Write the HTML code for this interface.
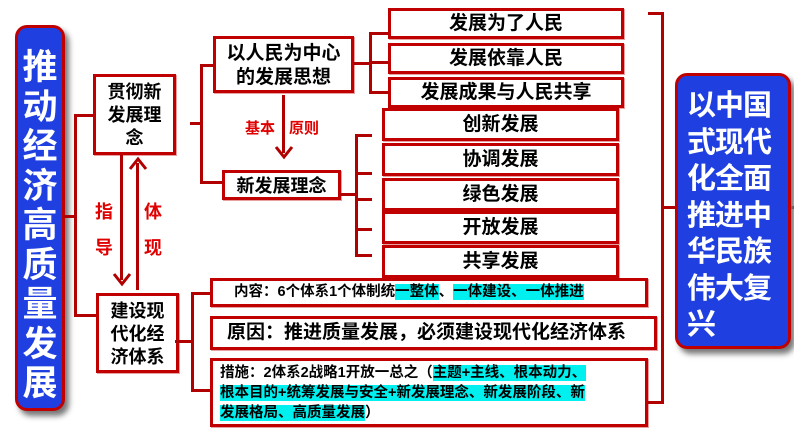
<!DOCTYPE html>
<html><head><meta charset="utf-8"><style>
body{margin:0;width:794px;height:447px;background:#fff;position:relative;overflow:hidden;font-family:"Liberation Sans","Noto Sans CJK SC",sans-serif;}
div{position:absolute;box-sizing:border-box;}
.b{border:3px solid #c00000;background:#fff;color:#000;font-weight:bold;text-align:center;box-shadow:1px 1px 0 #e8a0a0;}
.l{background:#b00000;}
.r{color:#e00000;font-weight:bold;font-size:18px;line-height:20px;}
.c{background:#00f0f0;}
.blue{background:#1f3fe0;border:3px solid #c00000;border-radius:12px;color:#fff;font-weight:bold;box-shadow:4px 5px 6px #777;}
</style></head><body>
<div class="blue" style="left:15px;top:25px;width:50px;height:386px;font-size:35px;line-height:39.5px;text-align:center;padding-top:20px;">推<br>动<br>经<br>济<br>高<br>质<br>量<br>发<br>展</div>
<div class="l" style="left:63px;top:215px;width:12px;height:3px"></div>
<div class="l" style="left:74px;top:114px;width:3px;height:203px"></div>
<div class="l" style="left:74px;top:114px;width:20px;height:3px"></div>
<div class="l" style="left:74px;top:314px;width:22px;height:3px"></div>
<div class="b" style="left:93px;top:74px;width:83px;height:81px;font-size:18px;line-height:23px;padding-top:4px">贯彻新<br>发展理<br>念</div>
<div class="b" style="left:96px;top:293px;width:83px;height:80px;font-size:18px;line-height:23px;padding-top:4px">建设现<br>代化经<br>济体系</div>
<div class="l" style="left:120px;top:155px;width:3px;height:125px"></div>
<svg style="position:absolute;left:112px;top:272px" width="20" height="16"><polyline points="2,2 10,12 18,2" fill="none" stroke="#b00000" stroke-width="3"/></svg>
<div class="l" style="left:136px;top:163px;width:3px;height:127px"></div>
<svg style="position:absolute;left:128px;top:155px" width="20" height="16"><polyline points="2,14 10,4 18,14" fill="none" stroke="#b00000" stroke-width="3"/></svg>
<div class="r" style="left:95px;top:202px">指</div>
<div class="r" style="left:95px;top:238px">导</div>
<div class="r" style="left:144px;top:202px">体</div>
<div class="r" style="left:144px;top:238px">现</div>
<div class="l" style="left:190px;top:122px;width:12px;height:3px"></div>
<div class="l" style="left:200px;top:64px;width:3px;height:120px"></div>
<div class="l" style="left:200px;top:64px;width:14px;height:3px"></div>
<div class="l" style="left:200px;top:181px;width:23px;height:3px"></div>
<div class="b" style="left:213px;top:36px;width:141px;height:57px;font-size:19px;line-height:24px;padding-top:3px">以人民为中心<br>的发展思想</div>
<div class="l" style="left:282px;top:95px;width:3px;height:58px"></div>
<svg style="position:absolute;left:274px;top:145px" width="20" height="16"><polyline points="2,2 10,12 18,2" fill="none" stroke="#b00000" stroke-width="3"/></svg>
<div class="r" style="left:245px;top:119px;font-size:15px">基本</div>
<div class="r" style="left:289px;top:119px;font-size:15px">原则</div>
<div class="b" style="left:222px;top:170px;width:119px;height:30px;font-size:18px;line-height:26px">新发展理念</div>
<div class="l" style="left:353px;top:62px;width:18px;height:3px"></div>
<div class="l" style="left:369px;top:32px;width:3px;height:62px"></div>
<div class="l" style="left:369px;top:32px;width:20px;height:3px"></div>
<div class="l" style="left:369px;top:61px;width:20px;height:3px"></div>
<div class="l" style="left:369px;top:91px;width:20px;height:3px"></div>
<div class="b" style="left:388px;top:8px;width:236px;height:31px;font-size:19px;line-height:25px">发展为了人民</div>
<div class="b" style="left:388px;top:43px;width:236px;height:31px;font-size:19px;line-height:25px">发展依靠人民</div>
<div class="b" style="left:388px;top:77px;width:236px;height:31px;font-size:19px;line-height:25px">发展成果与人民共享</div>
<div class="l" style="left:340px;top:193px;width:17px;height:3px"></div>
<div class="l" style="left:355px;top:134px;width:3px;height:123px"></div>
<div class="l" style="left:355px;top:134px;width:17px;height:3px"></div>
<div class="l" style="left:355px;top:172px;width:17px;height:3px"></div>
<div class="l" style="left:355px;top:198px;width:17px;height:3px"></div>
<div class="l" style="left:355px;top:228px;width:17px;height:3px"></div>
<div class="l" style="left:355px;top:254px;width:17px;height:3px"></div>
<div class="b" style="left:382px;top:108px;width:237px;height:33px;font-size:19px;line-height:27px">创新发展</div>
<div class="b" style="left:382px;top:143px;width:237px;height:33px;font-size:19px;line-height:27px">协调发展</div>
<div class="b" style="left:382px;top:178px;width:237px;height:33px;font-size:19px;line-height:27px">绿色发展</div>
<div class="b" style="left:382px;top:211px;width:237px;height:33px;font-size:19px;line-height:27px">开放发展</div>
<div class="b" style="left:382px;top:245px;width:237px;height:33px;font-size:19px;line-height:27px">共享发展</div>
<div class="l" style="left:175px;top:340px;width:18px;height:3px"></div>
<div class="l" style="left:191px;top:292px;width:3px;height:100px"></div>
<div class="l" style="left:191px;top:292px;width:20px;height:3px"></div>
<div class="l" style="left:191px;top:389px;width:20px;height:3px"></div>
<div class="b" style="left:210px;top:278px;width:438px;height:29px;font-size:14.5px;line-height:23px;text-align:left;padding-left:21px">内容：6个体系1个体制统<span class="c">一整体</span>、<span class="c">一体建设、一体推进</span></div>
<div class="b" style="left:210px;top:316px;width:447px;height:34px;font-size:19px;line-height:28px;text-align:left;padding-left:14px">原因：推进质量发展，必须建设现代化经济体系</div>
<div class="b" style="left:210px;top:358px;width:438px;height:69px;font-size:14.5px;line-height:20px;text-align:left;padding-left:7px;padding-top:2px">措施：2体系2战略1开放一总之（<span class="c">主题+主线、根本动力、</span><br><span class="c">根本目的+统筹发展与安全+新发展理念、新发展阶段、新</span><br><span class="c">发展格局、高质量发展</span>）</div>
<div class="l" style="left:648px;top:12px;width:16px;height:3px"></div>
<div class="l" style="left:661px;top:12px;width:3px;height:392px"></div>
<div class="l" style="left:648px;top:401px;width:16px;height:3px"></div>
<div class="l" style="left:661px;top:206px;width:16px;height:3px"></div>
<div class="l" style="left:788px;top:206px;width:6px;height:3px"></div>
<div class="blue" style="left:675px;top:73px;width:116px;height:276px;font-size:29px;line-height:36.5px;padding-left:9px;padding-top:12px;letter-spacing:-1px">以中国<br>式现代<br>化全面<br>推进中<br>华民族<br>伟大复<br>兴</div>
</body></html>
